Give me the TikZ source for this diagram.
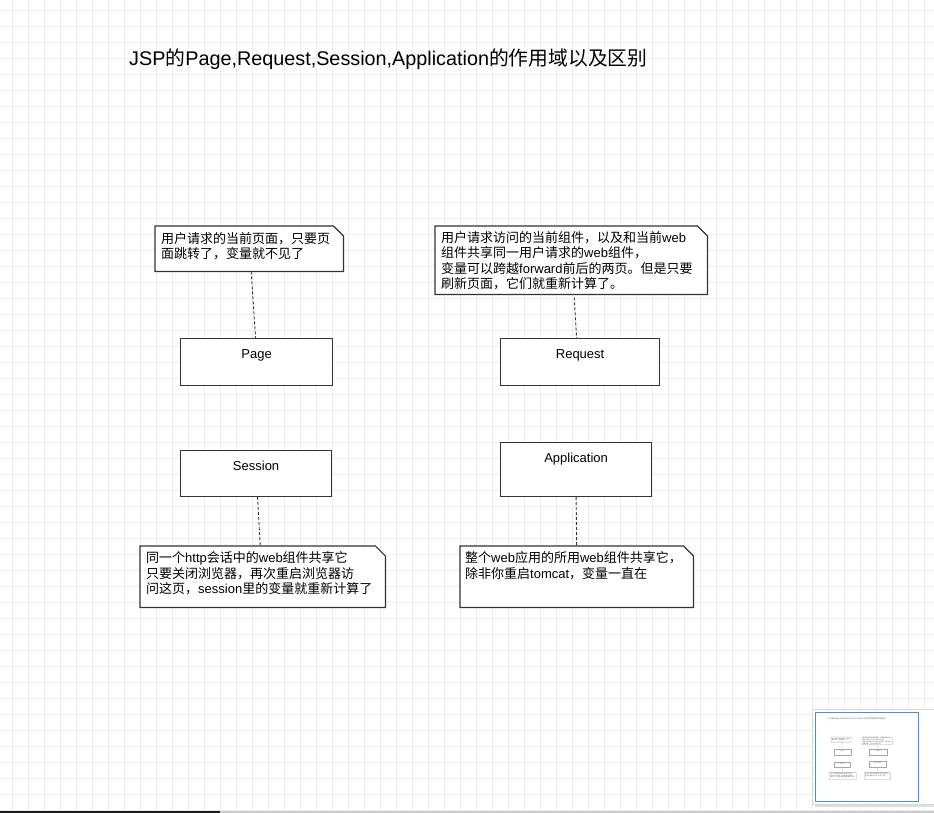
\documentclass[tikz,border=0pt]{standalone}
\usepackage{fontspec}
\setmainfont{Liberation Sans}
\newfontfamily\zh{Noto Sans CJK SC}
\usetikzlibrary{calc,positioning,shadows}
\tikzset{
  gridline/.style={black!7,line width=0.8pt},
  title/.style={anchor=base west,inner sep=0pt,font=\fontsize{19.8}{24}\selectfont},
  box/.style={draw=black!80,line width=1.2pt,fill=white,anchor=north west,inner sep=0pt,
    text height=20pt,font=\fontsize{13}{15}\selectfont},
  note/.style={anchor=north west,inner sep=0pt},
  noteline/.style={draw=black!80,line width=1.2pt,fill=white},
  notetext/.style={anchor=north west,align=left,inner sep=0pt,font=\fontsize{13}{15.3}\selectfont},
  link/.style={draw=black!80,dash pattern=on 3pt off 2pt,line width=0.9pt}
}
% note outline with a cut corner
\newcommand\dogear[1]{%
  \draw[noteline] (#1.north west) -- ([xshift=-10pt]#1.north east)
    -- ([yshift=-10pt]#1.north east) -- (#1.south east) -- (#1.south west) -- cycle;}
% the whole diagram, used twice (canvas and overview)
\newcommand\scopediagram{%
  \node[title] (title) at (129,66)
    {JSP{\zh 的}Page,Request,Session,Application{\zh 的作用域以及区别}};
  % notes
  \node[note,minimum width=188pt,minimum height=45pt] (pagenote) at (155,226) {};
  \dogear{pagenote}
  \node[notetext] (pagetext) at ([shift={(6pt,-6.5pt)}]pagenote.north west)
    {{\zh 用户请求的当前页面，只要页}\\{\zh 面跳转了，变量就不见了}};
  \node[note,minimum width=272pt,minimum height=68pt] (requestnote) at (435,226) {};
  \dogear{requestnote}
  \node[notetext] (requesttext) at ([shift={(6pt,-5.5pt)}]requestnote.north west)
    {{\zh 用户请求访问的当前组件，以及和当前}web\\
     {\zh 组件共享同一用户请求的}web{\zh 组件，}\\
     {\zh 变量可以跨越}forward{\zh 前后的两页。但是只要}\\
     {\zh 刷新页面，它们就重新计算了。}};
  \node[note,minimum width=245pt,minimum height=61pt] (sessionnote) at (140,546) {};
  \dogear{sessionnote}
  \node[notetext] (sessiontext) at ([shift={(6pt,-5.5pt)}]sessionnote.north west)
    {{\zh 同一个}http{\zh 会话中的}web{\zh 组件共享它}\\
     {\zh 只要关闭浏览器，再次重启浏览器访}\\
     {\zh 问这页，}session{\zh 里的变量就重新计算了}};
  \node[note,minimum width=233pt,minimum height=61pt] (applicationnote) at (460,546) {};
  \dogear{applicationnote}
  \node[notetext] (applicationtext) at ([shift={(5pt,-5.5pt)}]applicationnote.north west)
    {{\zh 整个}web{\zh 应用的所用}web{\zh 组件共享它，}\\
     {\zh 除非你重启}tomcat{\zh ，变量一直在}};
  % scopes
  \node[box,minimum width=152pt,text depth=27pt] (page) at (180,338) {Page};
  \node[box,minimum width=159pt,text depth=27pt] (request) at (500,338) {Request};
  \node[box,minimum width=151pt,text depth=26pt] (session) at (180,450) {Session};
  \node[box,minimum width=151pt,text depth=34pt] (application) at (500,442) {Application};
  % links
  \draw[link] ([xshift=2pt]pagenote.south) -- ([xshift=-1pt]page.north);
  \draw[link] ([shift={(3pt,-3pt)}]requestnote.south) -- ([xshift=-3.5pt]request.north);
  \draw[link] ([xshift=1.5pt]session.south) -- ([xshift=-2.5pt]sessionnote.north);
  \draw[link] (application.south) -- (applicationnote.north);
}

\begin{document}
\begin{tikzpicture}[x=1pt,y=-1pt]
\useasboundingbox (0,0) rectangle (934,813);
\fill[white] (0,0) rectangle (934,813);
\foreach \x in {12,28,...,924} \draw[gridline] (\x,0) -- (\x,813);
\foreach \y in {10,26,...,810} \draw[gridline] (0,\y) -- (934,\y);

\scopediagram

% overview panel
\node[draw=black!15,fill=white,drop shadow={opacity=0.25},anchor=north west,
  minimum width=124pt,minimum height=95pt,inner sep=0pt] (panel) at (812,709) {};
\node[draw={rgb,255:red,74;green,144;blue,226},line width=1pt,anchor=north west,
  minimum width=103pt,minimum height=89pt,inner sep=0pt] (view) at (815,712) {};
\begin{scope}[shift={(813.8,712)},scale=0.111,transform shape,
  every node/.append style={text=black!60},
  box/.append style={draw=black!35,line width=0.3pt},
  noteline/.append style={draw=black!35,line width=0.3pt},
  link/.append style={draw=black!35,line width=0.2pt,dash pattern=on 0.4pt off 0.3pt}]
\scopediagram
\end{scope}

\draw[black!20,line width=1.5pt] (220,812) -- (934,812);
\draw[black!90,line width=1.5pt] (0,812) -- (220,812);
\end{tikzpicture}
\end{document}
